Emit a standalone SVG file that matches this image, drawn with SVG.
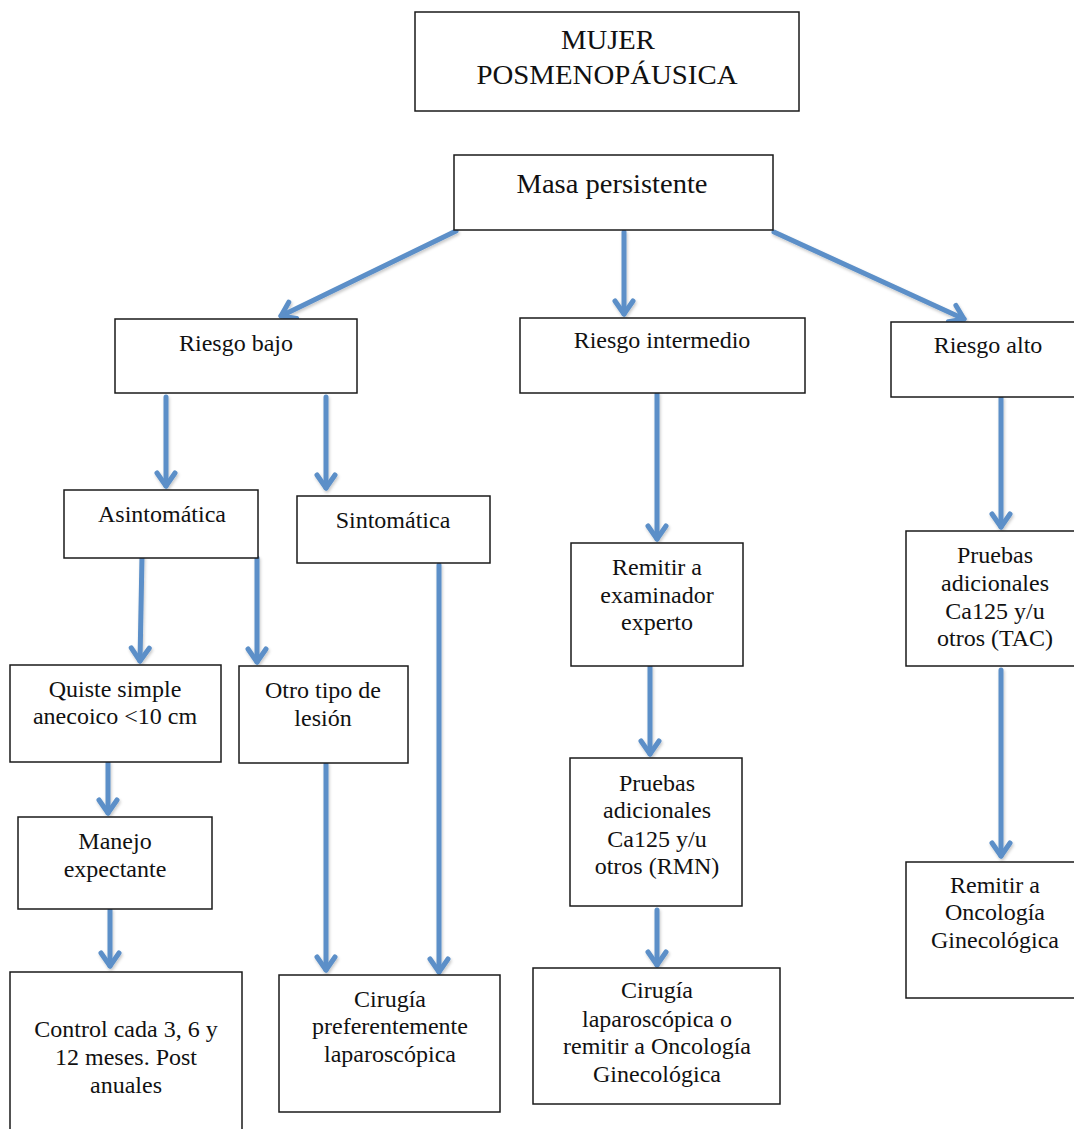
<svg xmlns="http://www.w3.org/2000/svg" width="1074" height="1129" viewBox="0 0 1074 1129">
  <style>
    .box { fill: #ffffff; stroke: #1a1a1a; stroke-width: 1.5; }
    .lbl { font-family: "Liberation Serif", "Times New Roman", serif; font-size: 24px; fill: #111111; text-anchor: middle; }
    .title { font-size: 27px; }
    .sub { font-size: 28px; }
    .arrow { fill: none; stroke: #5b8fc8; stroke-width: 5; stroke-linecap: round; marker-end: url(#chev); }
  </style>
  <defs>
    <filter id="soft" x="-20%" y="-20%" width="140%" height="140%">
      <feDropShadow dx="1" dy="2" stdDeviation="1.5" flood-color="#000000" flood-opacity="0.22"/>
    </filter>
    <!-- open chevron arrowhead -->
    <marker id="chev" markerUnits="userSpaceOnUse" viewBox="-20 -15 25 30" markerWidth="25" markerHeight="30" refX="0" refY="0" orient="auto" overflow="visible">
      <path d="M-13,-9 L0,0 L-13,9" fill="none" stroke="#5b8fc8" stroke-width="5" stroke-linecap="round" stroke-linejoin="round"/>
    </marker>
  </defs>
  <rect width="1074" height="1129" fill="#ffffff"/>

  <!-- connectors -->
  <g id="connectors" filter="url(#soft)">
    <path class="arrow" d="M456,231 L281,316"/>
    <path class="arrow" d="M624,232 L624,314"/>
    <path class="arrow" d="M774,232 L964,319"/>
    <path class="arrow" d="M166,397 L166,486"/>
    <path class="arrow" d="M326,397 L326,488"/>
    <path class="arrow" d="M142,556 L140,661"/>
    <path class="arrow" d="M257,558 L257,662"/>
    <path class="arrow" d="M439,565 L439,972"/>
    <path class="arrow" d="M108,763 L108,813"/>
    <path class="arrow" d="M110,910 L110,966"/>
    <path class="arrow" d="M326,764 L326,970"/>
    <path class="arrow" d="M657,394 L657,539"/>
    <path class="arrow" d="M650,667 L650,754"/>
    <path class="arrow" d="M657,910 L657,965"/>
    <path class="arrow" d="M1001,398 L1001,527"/>
    <path class="arrow" d="M1001,670 L1001,856"/>
  </g>

  <!-- nodes -->
  <g id="mujer">
    <rect class="box" x="415" y="12" width="384" height="99"/>
    <text class="lbl title" x="608" y="49" textLength="94" lengthAdjust="spacingAndGlyphs">MUJER</text>
    <text class="lbl title" x="607" y="84" textLength="261" lengthAdjust="spacingAndGlyphs">POSMENOPÁUSICA</text>
  </g>
  <g id="masa">
    <rect class="box" x="454" y="155" width="319" height="75"/>
    <text class="lbl sub" x="612" y="193" textLength="191" lengthAdjust="spacingAndGlyphs">Masa persistente</text>
  </g>
  <g id="riesgo-bajo">
    <rect class="box" x="115" y="319" width="242" height="74"/>
    <text class="lbl" x="236" y="351">Riesgo bajo</text>
  </g>
  <g id="riesgo-intermedio">
    <rect class="box" x="520" y="318" width="285" height="75"/>
    <text class="lbl" x="662" y="348">Riesgo intermedio</text>
  </g>
  <g id="riesgo-alto">
    <rect class="box" x="891" y="322" width="194" height="75"/>
    <text class="lbl" x="988" y="353">Riesgo alto</text>
  </g>
  <g id="asintomatica">
    <rect class="box" x="64" y="490" width="194" height="68"/>
    <text class="lbl" x="162" y="522">Asintomática</text>
  </g>
  <g id="sintomatica">
    <rect class="box" x="297" y="496" width="193" height="67"/>
    <text class="lbl" x="393" y="528">Sintomática</text>
  </g>
  <g id="quiste">
    <rect class="box" x="10" y="665" width="211" height="97"/>
    <text class="lbl" x="115" y="697">Quiste simple</text>
    <text class="lbl" x="115" y="724">anecoico &lt;10 cm</text>
  </g>
  <g id="otro-tipo">
    <rect class="box" x="239" y="666" width="169" height="97"/>
    <text class="lbl" x="323" y="698">Otro tipo de</text>
    <text class="lbl" x="323" y="726">lesión</text>
  </g>
  <g id="manejo">
    <rect class="box" x="18" y="817" width="194" height="92"/>
    <text class="lbl" x="115" y="849">Manejo</text>
    <text class="lbl" x="115" y="877">expectante</text>
  </g>
  <g id="control">
    <rect class="box" x="10" y="972" width="232" height="170"/>
    <text class="lbl" x="126" y="1037">Control cada 3, 6 y</text>
    <text class="lbl" x="126" y="1065">12 meses. Post</text>
    <text class="lbl" x="126" y="1093">anuales</text>
  </g>
  <g id="cirugia-laparoscopica">
    <rect class="box" x="279" y="975" width="221" height="137"/>
    <text class="lbl" x="390" y="1007">Cirugía</text>
    <text class="lbl" x="390" y="1034">preferentemente</text>
    <text class="lbl" x="390" y="1062">laparoscópica</text>
  </g>
  <g id="remitir-experto">
    <rect class="box" x="571" y="543" width="172" height="123"/>
    <text class="lbl" x="657" y="575">Remitir a</text>
    <text class="lbl" x="657" y="603">examinador</text>
    <text class="lbl" x="657" y="630">experto</text>
  </g>
  <g id="pruebas-rmn">
    <rect class="box" x="570" y="758" width="172" height="148"/>
    <text class="lbl" x="657" y="791">Pruebas</text>
    <text class="lbl" x="657" y="818">adicionales</text>
    <text class="lbl" x="657" y="847">Ca125 y/u</text>
    <text class="lbl" x="657" y="874">otros (RMN)</text>
  </g>
  <g id="cirugia-o-remitir">
    <rect class="box" x="533" y="968" width="247" height="136"/>
    <text class="lbl" x="657" y="998">Cirugía</text>
    <text class="lbl" x="657" y="1027">laparoscópica o</text>
    <text class="lbl" x="657" y="1054">remitir a Oncología</text>
    <text class="lbl" x="657" y="1082">Ginecológica</text>
  </g>
  <g id="pruebas-tac">
    <rect class="box" x="906" y="531" width="180" height="135"/>
    <text class="lbl" x="995" y="563">Pruebas</text>
    <text class="lbl" x="995" y="591">adicionales</text>
    <text class="lbl" x="995" y="619">Ca125 y/u</text>
    <text class="lbl" x="995" y="646">otros (TAC)</text>
  </g>
  <g id="remitir-oncologia">
    <rect class="box" x="906" y="862" width="180" height="136"/>
    <text class="lbl" x="995" y="893">Remitir a</text>
    <text class="lbl" x="995" y="920">Oncología</text>
    <text class="lbl" x="995" y="948">Ginecológica</text>
  </g>
</svg>
